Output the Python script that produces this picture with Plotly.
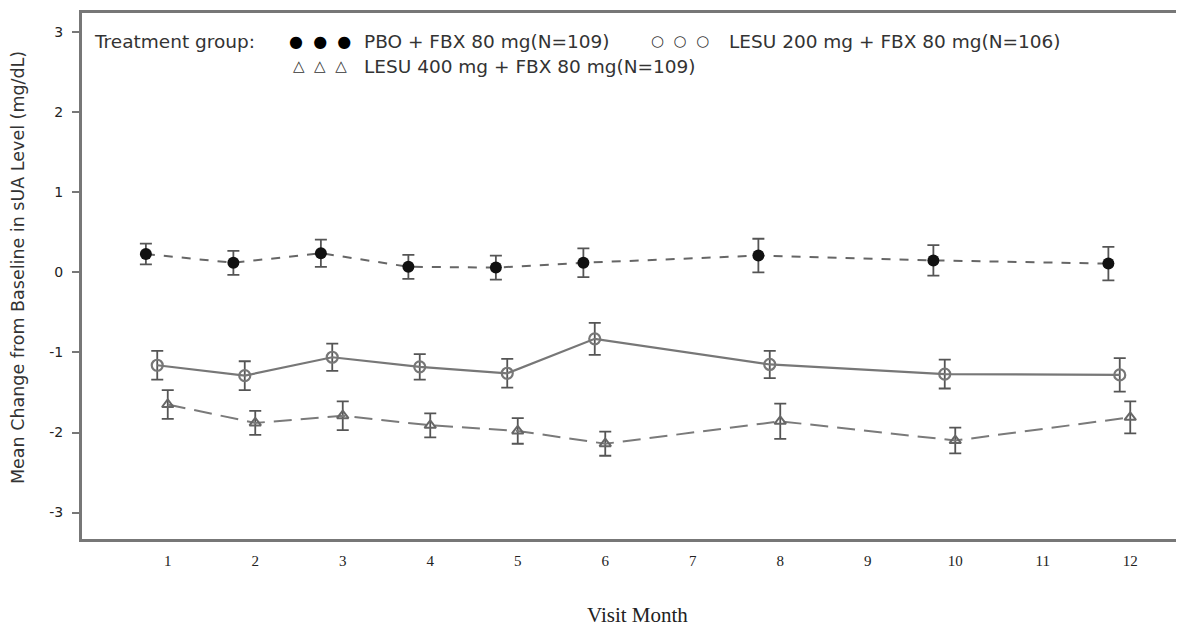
import plotly.graph_objects as go

months = [1, 2, 3, 4, 5, 6, 8, 10, 12]
tick_vals = list(range(1, 13))
y_ticks = [3, 2, 1, 0, -1, -2, -3]

pbo_mean = [0.23, 0.12, 0.24, 0.07, 0.06, 0.12, 0.21, 0.15, 0.11]
pbo_err = [0.13, 0.15, 0.17, 0.15, 0.15, 0.18, 0.21, 0.19, 0.21]

l200_mean = [-1.16, -1.29, -1.06, -1.18, -1.26, -0.83, -1.15, -1.27, -1.28]
l200_err = [0.18, 0.18, 0.17, 0.16, 0.18, 0.20, 0.17, 0.18, 0.21]

l400_mean = [-1.65, -1.88, -1.79, -1.91, -1.98, -2.14, -1.86, -2.10, -1.81]
l400_err = [0.18, 0.15, 0.18, 0.15, 0.16, 0.15, 0.22, 0.16, 0.20]

offsets = {"pbo": -0.25, "l200": -0.12, "l400": 0.0}

fig = go.Figure()

def add(mean, err, off, marker, line, name):
    fig.add_trace(go.Scatter(
        x=[m + off for m in months], y=mean, mode="lines+markers", name=name,
        line=line, marker=marker,
        error_y=dict(type="data", array=err, visible=True, color="#555555",
                     thickness=1.8, width=6),
        showlegend=False,
    ))

add(pbo_mean, pbo_err, offsets["pbo"],
    dict(symbol="circle", size=12, color="#111111"),
    dict(color="#666666", width=2, dash="9px,9px"), "PBO + FBX 80 mg(N=109)")
add(l200_mean, l200_err, offsets["l200"],
    dict(symbol="circle-open", size=11, color="#777777", line=dict(width=2.2, color="#777777")),
    dict(color="#777777", width=2.2), "LESU 200 mg + FBX 80 mg(N=106)")
add(l400_mean, l400_err, offsets["l400"],
    dict(symbol="triangle-up-open", size=10, color="#666666", line=dict(width=2, color="#666666")),
    dict(color="#7a7a7a", width=2, dash="18px,9px"), "LESU 400 mg + FBX 80 mg(N=109)")

# page body has an 8px margin; layout numbers below are in figure pixels
OFF = 8
W, H = 1176, 619
L, T = 82 - OFF, 13 - OFF
R = W - (1181 - OFF)
B = H - (539 - OFF)
pw, ph = W - L - R, H - T - B

def px(x):  # screen x -> paper
    return (x - OFF - L) / pw

def py(y):  # screen y -> paper
    return (H - B - (y - OFF)) / ph

sans = "DejaVu Sans, Verdana, sans-serif"
serif = "Liberation Serif, Times New Roman, serif"
lg = dict(size=18.5, color="#333333", family=sans)

ann = [
    ("Treatment group:", 92, 41, "left", lg),
    ("●  ●  ●", 320, 41, "center", dict(size=16, color="#000000", family=sans)),
    ("PBO + FBX 80 mg(N=109)", 362, 41, "left", lg),
    ("○  ○  ○", 680, 41, "center", dict(size=15, color="#333333", family=sans)),
    ("LESU 200 mg + FBX 80 mg(N=106)", 727, 41, "left", lg),
    ("△  △  △", 320, 66, "center", dict(size=15, color="#333333", family=sans)),
    ("LESU 400 mg + FBX 80 mg(N=109)", 362, 66, "left", lg),
]
for text, x, y, anc, f in ann:
    fig.add_annotation(text=text, xref="paper", yref="paper", x=px(x), y=py(y),
                       xanchor=anc, yanchor="middle", showarrow=False, font=f)

fig.add_annotation(text="Mean Change from Baseline in sUA Level (mg/dL)", xref="paper", yref="paper",
                   x=px(18), y=py(268), xanchor="center", yanchor="middle", textangle=-90,
                   showarrow=False, font=dict(family=sans, size=17.5, color="#333333"))

fig.add_annotation(text="Visit Month", xref="paper", yref="paper",
                   x=px(637), y=py(615), xanchor="center", yanchor="middle",
                   showarrow=False, font=dict(family=serif, size=21, color="#222222"))

fig.update_layout(
    template="none",
    width=W, height=H,
    margin=dict(l=L, r=R, t=T, b=B),
    paper_bgcolor="white", plot_bgcolor="white",
    xaxis=dict(range=[0.02, 12.58], tickvals=tick_vals, ticktext=[str(v) for v in tick_vals],
               automargin=False,
               showgrid=False, zeroline=False, showline=True, linecolor="#777777", linewidth=3,
               mirror=True, ticks="", ticklabelstandoff=6,
               tickfont=dict(family=serif, size=15, color="#222222")),
    yaxis=dict(range=[-3.33, 3.24], tickvals=y_ticks, ticktext=[str(v) for v in y_ticks],
               automargin=False,
               showgrid=False, zeroline=False, showline=True, linecolor="#777777", linewidth=3,
               mirror=True, ticks="outside", ticklen=7, tickcolor="#777777", tickwidth=2,
               ticklabelstandoff=6,
               tickfont=dict(family=sans, size=14, color="#222222")),
)

fig.write_html("out.html")
